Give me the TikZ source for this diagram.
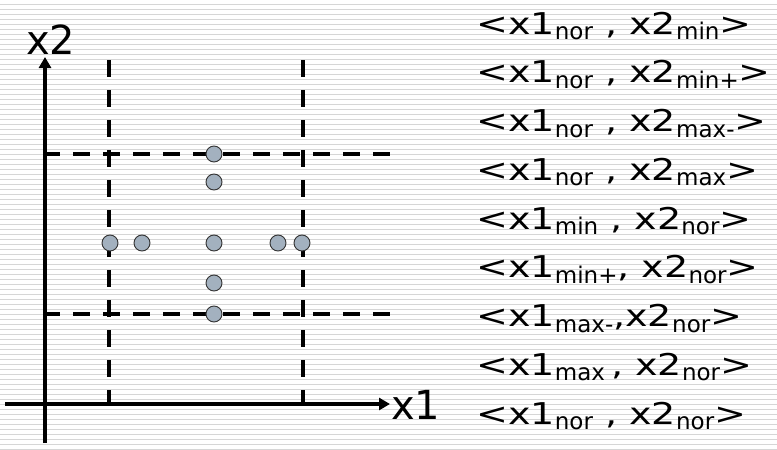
\documentclass[tikz,border=0pt]{standalone}
\usepackage{fontspec}
\setmainfont{DejaVu Sans}
\newfontfamily\widefont[FakeStretch=1.27]{DejaVu Sans}
\usetikzlibrary{arrows.meta}
\definecolor{stripe}{HTML}{D6D6D6}
\definecolor{dotfill}{HTML}{A3B1BF}
\definecolor{dotdraw}{HTML}{333333}
\newcommand\sbs[1]{\raisebox{-5.5pt}{\fontsize{23}{23}\fontspec{DejaVu Sans}#1}}
\tikzset{
  axisline/.style={line width=3.5pt, -{Triangle[length=11pt,width=12pt]}},
  guide/.style={line width=4pt, dash pattern=on 17pt off 13pt},
  pt/.style={circle, draw=dotdraw, fill=dotfill, line width=0.9pt, minimum size=16pt, inner sep=0pt},
  rowtext/.style={anchor=base west, inner sep=0pt, font=\fontsize{30}{30}\widefont},
  axlabel/.style={anchor=base west, inner sep=0pt, font=\fontsize{40}{40}\selectfont}
}
\begin{document}
\begin{tikzpicture}[x=1pt,y=-1pt]
\useasboundingbox (0,0) rectangle (777,450);
\fill[white] (0,0) rectangle (777,450);
\foreach \k in {0,...,89} \draw[stripe, line width=1pt] (0,4.5+5*\k) -- (777,4.5+5*\k);
% coordinates
\coordinate (yb) at (45,443);
\coordinate (yt) at (45,57);
\coordinate (xl) at (5,404);
\coordinate (xr) at (390,404);
\coordinate (v1t) at (109,60);
\coordinate (v1b) at (109,404);
\coordinate (v2t) at (303,60);
\coordinate (v2b) at (303,404);
\coordinate (h1l) at (43,154);
\coordinate (h1r) at (390,154);
\coordinate (h2l) at (43,314);
\coordinate (h2r) at (390,314);
% guides
\draw[guide] (v1t) -- (v1b);
\draw[guide] (v2t) -- (v2b);
\draw[guide] (h1l) -- (h1r);
\draw[guide] (h2l) -- (h2r);
% axes
\draw[axisline] (yb) -- (yt);
\draw[axisline] (xl) -- (xr);
\node[axlabel] (lx2) at (26,54) {x2};
\node[axlabel] (lx1) at (391,419) {x1};
% points
\node[pt] (p1) at (214,154) {};
\node[pt] (p2) at (214,182) {};
\node[pt] (p3) at (214,243) {};
\node[pt] (p4) at (214,283) {};
\node[pt] (p5) at (214,314) {};
\node[pt] (p6) at (110,243) {};
\node[pt] (p7) at (142,243) {};
\node[pt] (p8) at (278,243) {};
\node[pt] (p9) at (302,243) {};
% rows
\node[rowtext] (r1) at (476,34.0) {<x1\sbs{nor} , x2\sbs{min}>};
\node[rowtext] (r2) at (476,82.75) {<x1\sbs{nor} , x2\sbs{min+}>};
\node[rowtext] (r3) at (476,131.5) {<x1\sbs{nor} , x2\sbs{max-}>};
\node[rowtext] (r4) at (476,180.25) {<x1\sbs{nor} , x2\sbs{max}>};
\node[rowtext] (r5) at (476,229.0) {<x1\sbs{min} , x2\sbs{nor}>};
\node[rowtext] (r6) at (476,277.75) {<x1\sbs{min+}, x2\sbs{nor}>};
\node[rowtext] (r7) at (476,326.5) {<x1\sbs{max-},x2\sbs{nor}>};
\node[rowtext] (r8) at (476,375.25) {<x1\sbs{max}\hspace{6pt}, x2\sbs{nor}>};
\node[rowtext] (r9) at (476,424.0) {<x1\sbs{nor} , x2\sbs{nor}>};
\end{tikzpicture}
\end{document}
